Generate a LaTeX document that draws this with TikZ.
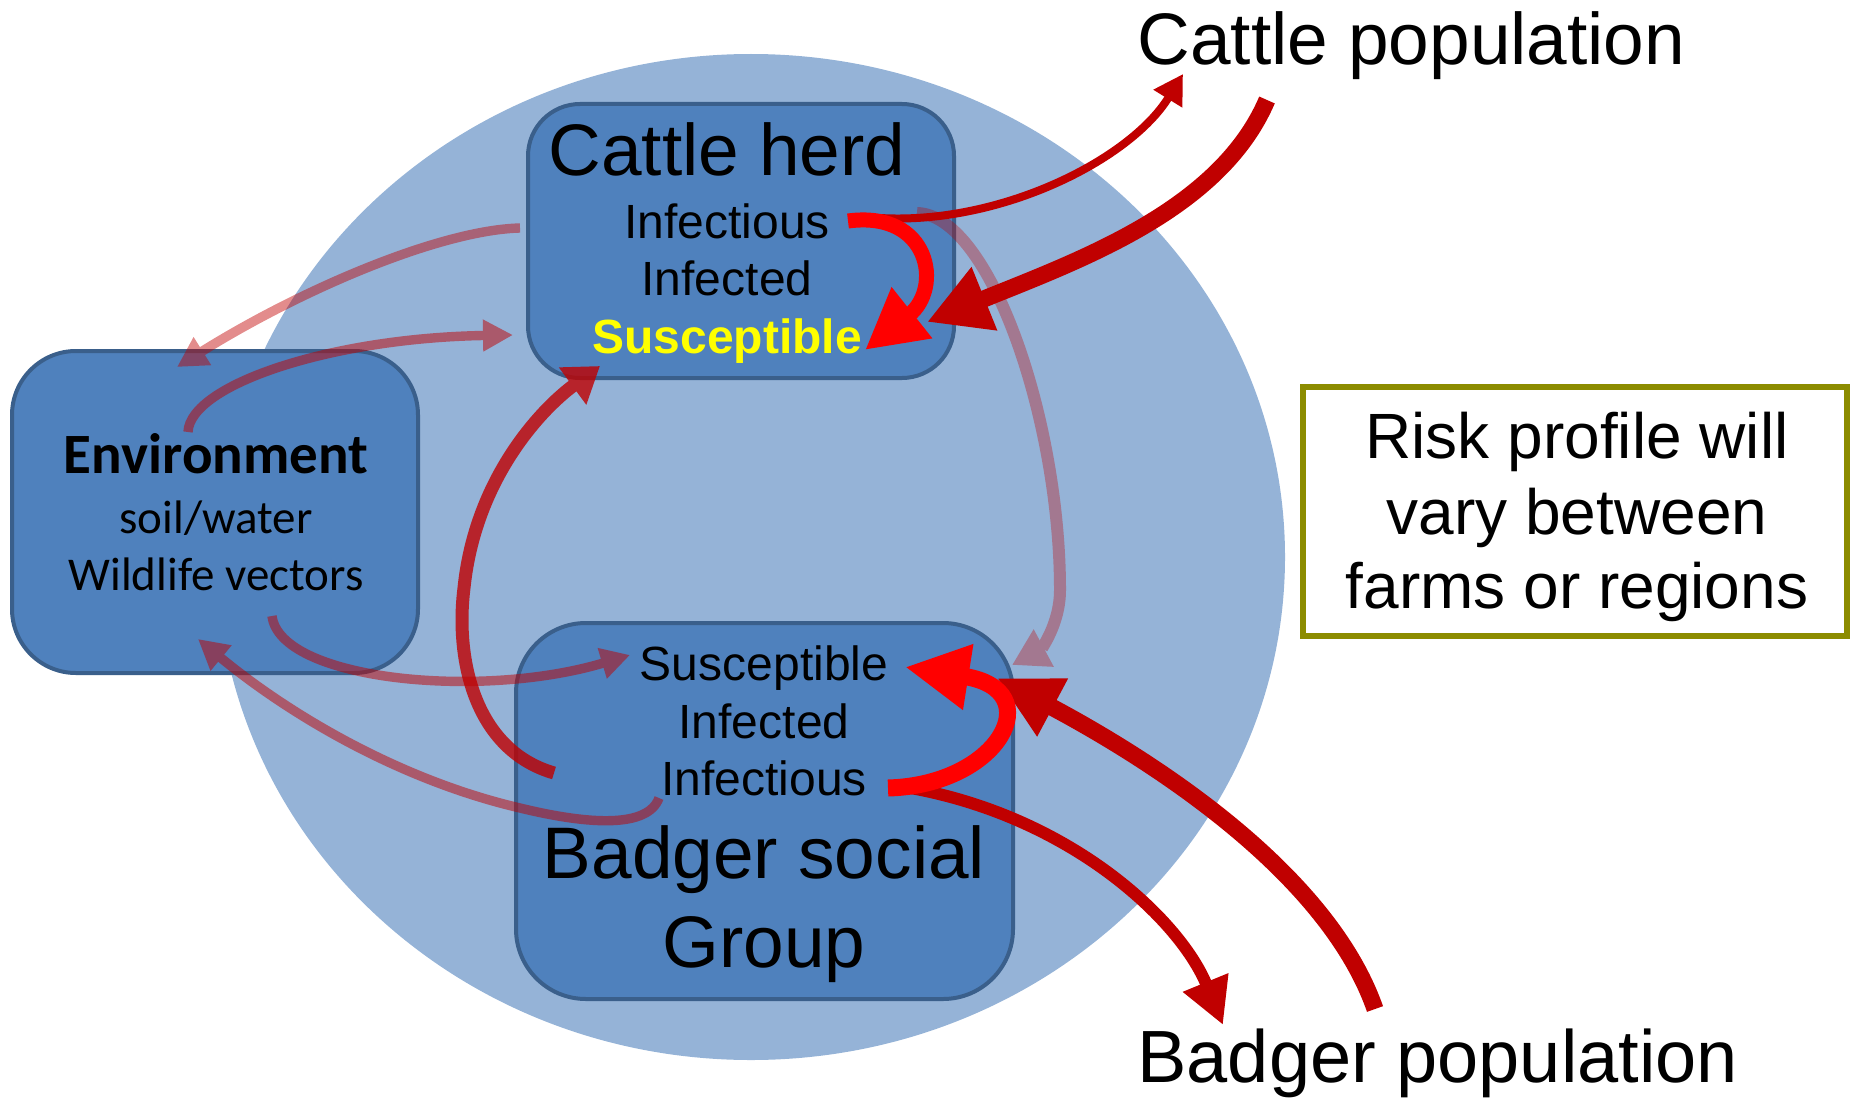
\documentclass[tikz,border=0pt]{standalone}
\usepackage{fontspec}
\setmainfont{Liberation Sans}
\newfontfamily\calib{Carlito}
\usetikzlibrary{arrows.meta}
\definecolor{circfill}{HTML}{95B3D7}
\definecolor{boxfill}{HTML}{4F81BD}
\definecolor{boxline}{HTML}{3A5F8B}
\definecolor{darkred}{HTML}{C00000}
\definecolor{brightred}{HTML}{FF0000}
\definecolor{riskline}{RGB}{140,140,0}
\definecolor{susyellow}{HTML}{FFFF00}
\begin{document}
\begin{tikzpicture}[x=0.5pt,y=-0.5pt,
  rbox/.style={draw=boxline, line width=2pt, fill=boxfill, rounded corners=#1, inner sep=0pt},
  txt/.style={inner sep=0pt, anchor=base},
  big/.style={font=\fontsize{36.5}{40}\selectfont},
  mid/.style={font=\fontsize{24}{28}\selectfont},
  pale/.style={draw=darkred, line width=4.7pt},
  dark/.style={draw=darkred, fill=none},
  bright/.style={draw=brightred, fill=none},
  head/.style 2 args={-{Triangle[length=#1pt,width=#2pt]}}
]
\useasboundingbox (0,0) rectangle (1851,1097);
% background disc
\fill[circfill] (751,557) ellipse [x radius=267pt, y radius=251.5pt];

% boxes
\node[rbox=26pt, minimum width=213pt, minimum height=137pt] (cattle) at (741,241) {};
\node[rbox=32pt, minimum width=203pt, minimum height=161pt] (env) at (215,512) {};
\node[rbox=35pt, minimum width=248.5pt, minimum height=188pt] (badger) at (764.5,811) {};
\node[draw=riskline, line width=3pt, fill=white, inner sep=0pt,
      minimum width=272pt, minimum height=124.5pt] (risk) at (1574.5,511.5) {};

% cattle herd texts
\node[txt, big] (cTitle) at (727,175) {Cattle herd};
\node[txt, mid] (cInf) at (727,238) {Infectious};
\node[txt, mid] (cInfd) at (727,295) {Infected};
\node[txt, mid, text=susyellow] (cSus) at (727,353) {\textbf{Susceptible}};

% environment texts
\node[txt, font=\calib\bfseries\fontsize{28.5}{32}\selectfont] (eTitle) at (216,473) {Environment};
\node[txt, font=\calib\fontsize{23.5}{28}\selectfont] (eSoil) at (216,533) {soil/water};
\node[txt, font=\calib\fontsize{23.5}{28}\selectfont] (eWild) at (216,590) {Wildlife vectors};

% badger texts
\node[txt, mid] (bSus) at (764,680) {Susceptible};
\node[txt, mid] (bInfd) at (764,738) {Infected};
\node[txt, mid] (bInf) at (764,795) {Infectious};
\node[txt, big] (bTitle) at (764,878) {Badger social};
\node[txt, big] (bGroup) at (764,967) {Group};

% population labels
\node[inner sep=0pt, anchor=base west, big] (cPop) at (1137,65) {Cattle population};
\node[inner sep=0pt, anchor=base west, font=\fontsize{37}{40}\selectfont] (bPop) at (1137,1082) {Badger population};

% risk text
\node[txt, font=\fontsize{32}{36}\selectfont] (r1) at (1577,458) {Risk profile will};
\node[txt, font=\fontsize{32}{36}\selectfont] (r2) at (1577,534) {vary between};
\node[txt, font=\fontsize{32}{36}\selectfont] (r3) at (1577,608) {farms or regions};

% connector end points
\coordinate (cLeftOut) at (520,228);
\coordinate (eTopIn) at (177,367);
\coordinate (eTopOut) at (188,432);
\coordinate (cLeftIn) at (513,335);
\coordinate (eBotOut) at (272,616);
\coordinate (bSusIn) at (630,655);
\coordinate (bInfOut) at (659,798);
\coordinate (eBotIn) at (198,639);
\coordinate (bLeftOut) at (554,773);
\coordinate (cBotIn) at (600,366);
\coordinate (cRightOut) at (917,213);
\coordinate (bCornerIn) at (1012,665);
\coordinate (cInfA) at (848,221);
\coordinate (cSusA) at (865,350);
\coordinate (cInfB) at (880,218);
\coordinate (cPopIn) at (1183,74);
\coordinate (cPopOut) at (1267,100);
\coordinate (cSusB) at (927,322);
\coordinate (bInfA) at (888,788);
\coordinate (bSusA) at (905,667);
\coordinate (bInfB) at (905,787);
\coordinate (bPopIn) at (1223,1025);
\coordinate (bPopOut) at (1375,1009);
\coordinate (bSusB) at (997,678);

% pale environment connectors
\begin{scope}[transparency group, opacity=0.45]
\draw[pale, head={15}{15.5}] (cLeftOut) .. controls (440,230) and (300,290) .. (eTopIn);
\end{scope}
\begin{scope}[transparency group, opacity=0.5]
\draw[pale, head={15}{15}] (eTopOut) .. controls (190,385) and (330,338) .. (cLeftIn);
\end{scope}
\begin{scope}[transparency group, opacity=0.5]
\draw[pale, head={14.5}{15}] (eBotOut) .. controls (280,680) and (480,700) .. (bSusIn);
\end{scope}
\begin{scope}[transparency group, opacity=0.5]
\draw[pale, head={15}{15.5}] (bInfOut) .. controls (648,828) and (590,825) .. (520,808)
   .. controls (400,780) and (290,715) .. (eBotIn);
\end{scope}
% badger group -> cattle herd
\begin{scope}[transparency group, opacity=0.8]
\draw[dark, line width=6.5pt, head={17}{22}] (bLeftOut) .. controls (475,750) and (455,660) .. (464,588)
   .. controls (475,480) and (540,410) .. (cBotIn);
\end{scope}
% cattle herd -> badger group (faint)
\begin{scope}[transparency group, opacity=0.33]
\draw[dark, line width=6pt, head={18}{20}] (cRightOut) .. controls (990,215) and (1060,420) .. (1060,590)
   .. controls (1060,625) and (1040,650) .. (bCornerIn);
\end{scope}

% population exchanges
\draw[dark, line width=4pt, head={14.5}{16}] (cInfB) .. controls (1000,225) and (1130,160) .. (cPopIn);
\draw[dark, line width=8.5pt, head={31}{32}] (cPopOut) .. controls (1220,210) and (1080,260) .. (cSusB);
\draw[dark, line width=6pt, head={23}{23}] (bInfB) .. controls (1070,815) and (1180,920) .. (bPopIn);
\draw[dark, line width=8.5pt, head={31.5}{30.5}] (bPopOut) .. controls (1330,880) and (1170,770) .. (bSusB);

% within-group transmission
\draw[bright, line width=7.5pt, head={30}{30.5}] (cInfA) .. controls (930,210) and (943,288) .. (cSusA);
\draw[bright, line width=8.5pt, head={32}{31}] (bInfA) .. controls (1000,785) and (1050,690) .. (bSusA);
\end{tikzpicture}
\end{document}
